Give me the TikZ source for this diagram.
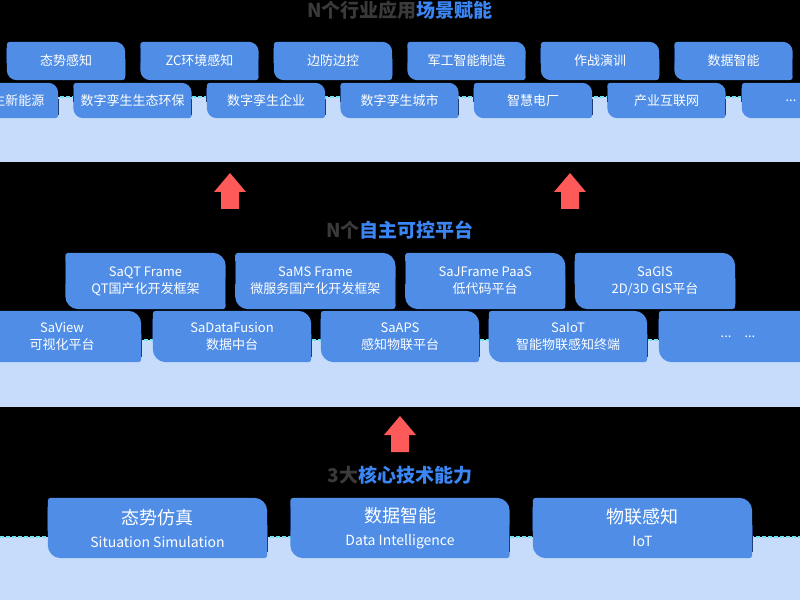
\documentclass[tikz,border=0pt]{standalone}
\usepackage{fontspec}
\setmainfont{Noto Sans CJK SC}
\usetikzlibrary{calc}
\pgfdeclarelayer{back}
\pgfdeclarelayer{tiles}
\pgfsetlayers{back,tiles,main}
\definecolor{tileblue}{HTML}{4F8DE6}
\definecolor{panelblue}{HTML}{C6DCFA}
\definecolor{edgecyan}{HTML}{6FE2F2}
\definecolor{markblue}{HTML}{1D3F7A}
\definecolor{arrowred}{HTML}{FF5A5A}
\definecolor{titlegray}{HTML}{3A3A3A}
\definecolor{titleblue}{HTML}{3B86F5}
\tikzset{
  tile/.style={inner sep=0pt, text=white, align=center},
  sceneTile/.style={tile, minimum width=118pt, minimum height=38pt, font=\fontsize{13}{16}\selectfont},
  sceneTileLow/.style={sceneTile, minimum height=35pt},
  platTile/.style={tile, minimum width=160pt, minimum height=56pt, font=\fontsize{13}{17}\selectfont},
  platTileLow/.style={platTile, minimum width=158pt, minimum height=51pt},
  coreTile/.style={tile, minimum width=219pt, minimum height=60pt, font=\fontsize{14}{23}\selectfont},
  title/.style={inner sep=0pt, text=titlegray, font=\fontsize{19}{22}\selectfont\bfseries},
  panelEdge/.style={edgecyan, line width=1.2pt, dash pattern=on 4pt off 2pt},
}
% tile outline: small corners top left / bottom right, big ones on the other two
\newcommand{\tileshape}[2]{%
  \fill[tileblue] ([xshift=3pt]#1.north west) -- ([xshift=-#2]#1.north east)
    arc[start angle=90, end angle=0, radius=#2] -- ([yshift=3pt]#1.south east)
    arc[start angle=0, end angle=-90, radius=3pt] -- ([xshift=#2]#1.south west)
    arc[start angle=270, end angle=180, radius=#2] -- ([yshift=-3pt]#1.north west)
    arc[start angle=180, end angle=90, radius=3pt] -- cycle;
  \draw[markblue, line width=1pt] ($(#1.north west)!0.15!(#1.south west)$) -- ($(#1.north west)!0.55!(#1.south west)$);
  \draw[markblue, line width=1pt] ($(#1.north east)!0.45!(#1.south east)$) -- ($(#1.north east)!0.9!(#1.south east)$);
}
\begin{document}
\begin{tikzpicture}[x=1pt, y=1pt]
  \useasboundingbox (0,0) rectangle (800,600);
  \begin{pgfonlayer}{back}
    \fill[black] (0,0) rectangle (800,600);
    \fill[panelblue] (0,438) rectangle (800,503);
    \draw[panelEdge] (0,503) -- (800,503);
    \fill[panelblue] (0,193) rectangle (800,260);
    \draw[panelEdge] (0,260) -- (800,260);
    \fill[panelblue] (0,0) rectangle (800,63);
    \draw[panelEdge] (0,63) -- (800,63);
  \end{pgfonlayer}

  % scenes
  \node[title] (sceneTitle) at (400,590) {N个行业应用\textcolor{titleblue}{场景赋能}};
  \foreach \name/\x/\txt in {s1/66/态势感知, s2/199.5/ZC环境感知, s3/333/边防边控,
      s4/466.5/军工智能制造, s5/600/作战演训, s6/733.5/数据智能}
    \node[sceneTile] (\name) at (\x,539) {\txt};
  \foreach \name/\x/\txt in {d1/-1/数字孪生新能源, d2/132.5/数字孪生生态环保, d3/266/数字孪生企业,
      d4/399.5/数字孪生城市, d5/533/智慧电厂, d6/666.5/产业互联网}
    \node[sceneTileLow] (\name) at (\x,499.5) {\txt};
  \node[sceneTileLow, minimum width=98pt] (d7) at (791,499.5) {...};

  % platforms
  \node[title] (platTitle) at (400,370) {N个\textcolor{titleblue}{自主可控平台}};
  \node[platTile] (p1) at (145.5,319) {SaQT Frame\\QT国产化开发框架};
  \node[platTile] (p2) at (315.3,319) {SaMS Frame\\微服务国产化开发框架};
  \node[platTile] (p3) at (485.2,319) {SaJFrame PaaS\\低代码平台};
  \node[platTile] (p4) at (655,319) {SaGIS\\2D/3D GIS平台};
  \node[platTileLow] (q1) at (62,263.5) {SaView\\可视化平台};
  \node[platTileLow] (q2) at (232,263.5) {SaDataFusion\\数据中台};
  \node[platTileLow] (q3) at (400,263.5) {SaAPS\\感知物联平台};
  \node[platTileLow] (q4) at (568,263.5) {SaIoT\\智能物联感知终端};
  \node[platTileLow] (q5) at (738,263.5) {...\quad ...};

  % core abilities
  \node[title] (coreTitle) at (400,125) {3大\textcolor{titleblue}{核心技术能力}};
  \node[coreTile] (c1) at (157.5,72) {{\fontsize{18}{23}\selectfont 态势仿真}\\Situation Simulation};
  \node[coreTile] (c2) at (400,72) {{\fontsize{18}{23}\selectfont 数据智能}\\Data Intelligence};
  \node[coreTile] (c3) at (642.5,72) {{\fontsize{18}{23}\selectfont 物联感知}\\IoT};

  \begin{pgfonlayer}{tiles}
    \foreach \n in {s1,s2,s3,s4,s5,s6,d1,d2,d3,d4,d5,d6,d7}
      {\tileshape{\n}{10pt}}
    \foreach \n in {p1,p2,p3,p4,q1,q2,q3,q4,q5}
      {\tileshape{\n}{13pt}}
    \foreach \n in {c1,c2,c3}
      {\tileshape{\n}{13pt}}
  \end{pgfonlayer}

  % red arrows between layers
  \foreach \x/\y in {230/391, 570/391, 400/148}
    \fill[arrowred] (\x-9,\y) -- (\x-9,\y+17) -- (\x-16,\y+17) -- (\x,\y+36)
      -- (\x+16,\y+17) -- (\x+9,\y+17) -- (\x+9,\y) -- cycle;
\end{tikzpicture}
\end{document}
